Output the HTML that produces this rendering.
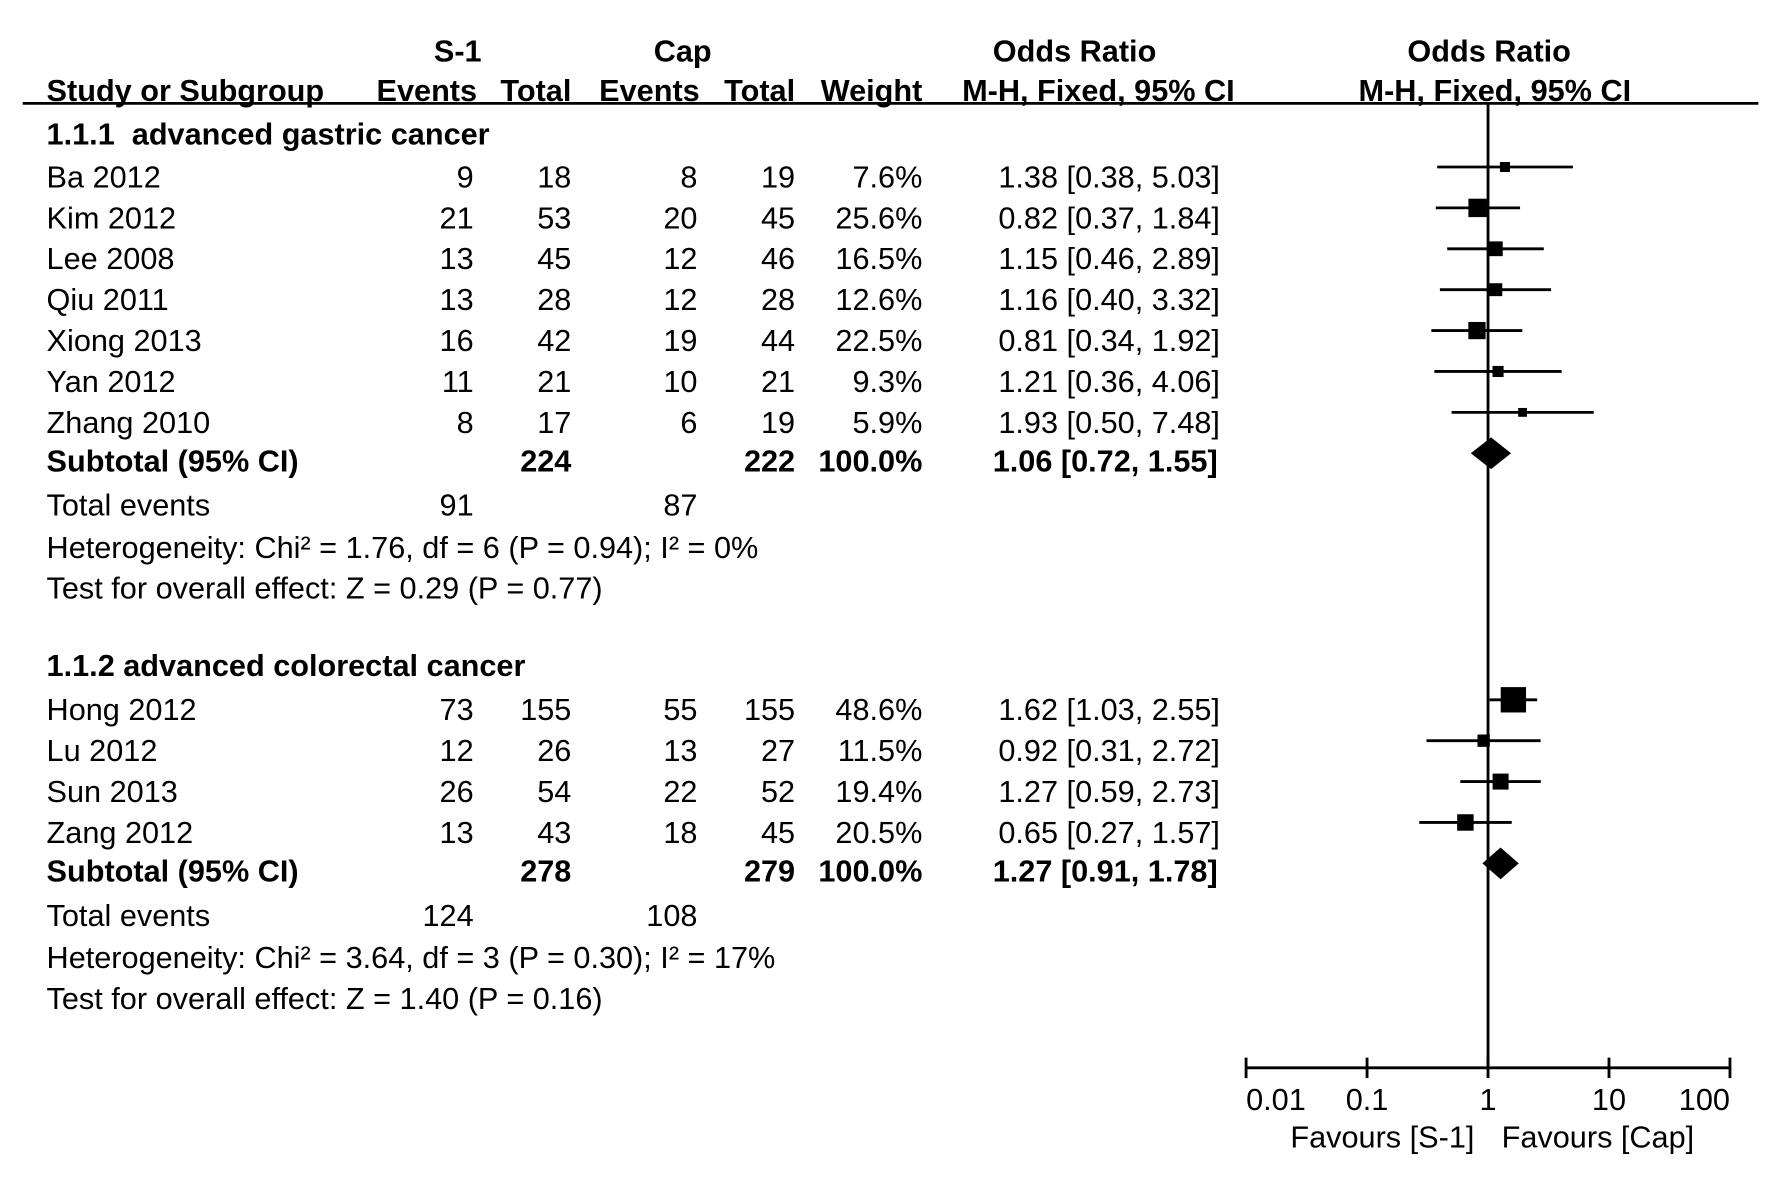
<!DOCTYPE html>
<html><head><meta charset="utf-8"><style>
html,body{margin:0;padding:0;background:#fff;}
svg{display:block;}
text{font-family:"Liberation Sans",Arial,sans-serif;font-size:27px;fill:#000;}
.b{font-weight:bold;}
</style></head><body>
<svg id="chart" width="1772" height="1186" viewBox="0 0 1560 1044" preserveAspectRatio="none" xmlns="http://www.w3.org/2000/svg">
<g id="hdr">
<text class="b" x="403" y="54" text-anchor="middle">S-1</text>
<text class="b" x="601" y="54" text-anchor="middle">Cap</text>
<text class="b" x="946" y="54" text-anchor="middle">Odds Ratio</text>
<text class="b" x="1311" y="54" text-anchor="middle">Odds Ratio</text>
<text class="b" x="41" y="89">Study or Subgroup</text>
<text class="b" x="420" y="89" text-anchor="end">Events</text>
<text class="b" x="503" y="89" text-anchor="end">Total</text>
<text class="b" x="616" y="89" text-anchor="end">Events</text>
<text class="b" x="700" y="89" text-anchor="end">Total</text>
<text class="b" x="812" y="89" text-anchor="end">Weight</text>
<text class="b" x="967" y="89" text-anchor="middle">M-H, Fixed, 95% CI</text>
<text class="b" x="1316" y="89" text-anchor="middle">M-H, Fixed, 95% CI</text>
<line x1="20" y1="91" x2="1548" y2="91" stroke="#000" stroke-width="2.5"/>
</g>
<g id="rows"></g>
<g id="plot"></g>
</svg>
<script>
const studies1 = ["Ba 2012","Kim 2012","Lee 2008","Qiu 2011","Xiong 2013","Yan 2012","Zhang 2010"];
const s1Events1 = [9,21,13,13,16,11,8];
const s1Total1 = [18,53,45,28,42,21,17];
const capEvents1 = [8,20,12,12,19,10,6];
const capTotal1 = [19,45,46,28,44,21,19];
const weights1 = [7.6,25.6,16.5,12.6,22.5,9.3,5.9];
const or1 = [1.38,0.82,1.15,1.16,0.81,1.21,1.93];
const lo1 = [0.38,0.37,0.46,0.40,0.34,0.36,0.50];
const hi1 = [5.03,1.84,2.89,3.32,1.92,4.06,7.48];
const studies2 = ["Hong 2012","Lu 2012","Sun 2013","Zang 2012"];
const s1Events2 = [73,12,26,13];
const s1Total2 = [155,26,54,43];
const capEvents2 = [55,13,22,18];
const capTotal2 = [155,27,52,45];
const weights2 = [48.6,11.5,19.4,20.5];
const or2 = [1.62,0.92,1.27,0.65];
const lo2 = [1.03,0.31,0.59,0.27];
const hi2 = [2.55,2.72,2.73,1.57];
const subtotalOR = [1.06,1.27];
const subtotalLo = [0.72,0.91];
const subtotalHi = [1.55,1.78];
const subtotalS1 = [224,278];
const subtotalCap = [222,279];
const totalEventsS1 = [91,124];
const totalEventsCap = [87,108];
const hetText = ["Heterogeneity: Chi² = 1.76, df = 6 (P = 0.94); I² = 0%","Heterogeneity: Chi² = 3.64, df = 3 (P = 0.30); I² = 17%"];
const testText = ["Test for overall effect: Z = 0.29 (P = 0.77)","Test for overall effect: Z = 1.40 (P = 0.16)"];
const groupTitles = ["1.1.1  advanced gastric cancer","1.1.2 advanced colorectal cancer"];
const tickValues = [0.01,0.1,1,10,100];
const tickLabels = ["0.01","0.1","1","10","100"];

const NS="http://www.w3.org/2000/svg";
const rowsG=document.getElementById('rows'), plotG=document.getElementById('plot');
const X0=1310, DEC=106.5, AXY=940;
function xs(v){return X0+DEC*Math.log10(v);}
function t(parent,str,x,y,anchor,bold){const e=document.createElementNS(NS,'text');e.setAttribute('x',x);e.setAttribute('y',y);if(anchor)e.setAttribute('text-anchor',anchor);if(bold)e.setAttribute('class','b');e.textContent=str;parent.appendChild(e);return e;}
function fmt(v){return v.toFixed(2);}
const groups=[
 {st:studies1,se:s1Events1,stt:s1Total1,ce:capEvents1,ct:capTotal1,w:weights1,or:or1,lo:lo1,hi:hi1,top:117,first:155},
 {st:studies2,se:s1Events2,stt:s1Total2,ce:capEvents2,ct:capTotal2,w:weights2,or:or2,lo:lo2,hi:hi2,top:585,first:624}
];
groups.forEach((g,gi)=>{
 let e=t(rowsG,groupTitles[gi],41,g.top+10,null,true);
 
 
 e.setAttribute('xml:space','preserve');e.style.whiteSpace='pre';
 let y=g.first;
 g.st.forEach((s,i)=>{
  const cy=y+i*36, by=cy+10;
  e=t(rowsG,s,41,by);
  
  
  t(rowsG,String(g.se[i]),417,by,'end');
  t(rowsG,String(g.stt[i]),503,by,'end');
  t(rowsG,String(g.ce[i]),614,by,'end');
  t(rowsG,String(g.ct[i]),700,by,'end');
  t(rowsG,g.w[i].toFixed(1)+'%',812,by,'end');
  t(rowsG,fmt(g.or[i])+' ['+fmt(g.lo[i])+', '+fmt(g.hi[i])+']',1074,by,'end');
  const ly=cy-8;
  const ln=document.createElementNS(NS,'line');
  ln.setAttribute('x1',xs(g.lo[i]));ln.setAttribute('x2',xs(g.hi[i]));
  ln.setAttribute('y1',ly);ln.setAttribute('y2',ly);
  ln.setAttribute('stroke','#000');ln.setAttribute('stroke-width','2.5');
  
  
  plotG.appendChild(ln);
  const sz=Math.max(6,3.2*Math.sqrt(g.w[i]));
  const r=document.createElementNS(NS,'rect');
  r.setAttribute('x',xs(g.or[i])-sz/2);r.setAttribute('y',ly-sz/2);
  r.setAttribute('width',sz);r.setAttribute('height',sz);r.setAttribute('fill','#000');
  
  
  plotG.appendChild(r);
 });
 const last=y+(g.st.length-1)*36;
 const sy=last+34;
 e=t(rowsG,'Subtotal (95% CI)',41,sy+10,null,true);
 
 
 t(rowsG,String(subtotalS1[gi]),503,sy+10,'end',true);
 t(rowsG,String(subtotalCap[gi]),700,sy+10,'end',true);
 t(rowsG,'100.0%',812,sy+10,'end',true);
 t(rowsG,fmt(subtotalOR[gi])+' ['+fmt(subtotalLo[gi])+', '+fmt(subtotalHi[gi])+']',1072,sy+10,'end',true);
 const dy=sy-6;
 const cx=xs(subtotalOR[gi]);
 const lx=Math.min(xs(subtotalLo[gi]),cx-16), rx=Math.max(xs(subtotalHi[gi]),cx+16);
 const d=document.createElementNS(NS,'polygon');
 d.setAttribute('points',[lx+','+dy, cx+','+(dy-14), rx+','+dy, cx+','+(dy+14)].join(' '));
 d.setAttribute('fill','#000');
 
 
 plotG.appendChild(d);
 const ty=sy+39;
 e=t(rowsG,'Total events',41,ty+10);
 
 
 t(rowsG,String(totalEventsS1[gi]),417,ty+10,'end');
 t(rowsG,String(totalEventsCap[gi]),614,ty+10,'end');
 e=t(rowsG,hetText[gi],41,ty+47);
 
 
 e=t(rowsG,testText[gi],41,ty+83);
 
 
});
let vl=document.createElementNS(NS,'line');
vl.setAttribute('x1',xs(1));vl.setAttribute('x2',xs(1));vl.setAttribute('y1',91);vl.setAttribute('y2',AXY);
vl.setAttribute('stroke','#000');vl.setAttribute('stroke-width','2.5');


plotG.appendChild(vl);
let ax=document.createElementNS(NS,'line');
ax.setAttribute('x1',xs(tickValues[0]));ax.setAttribute('x2',xs(tickValues[tickValues.length-1]));ax.setAttribute('y1',AXY);ax.setAttribute('y2',AXY);
ax.setAttribute('stroke','#000');ax.setAttribute('stroke-width','2.5');


plotG.appendChild(ax);
tickValues.forEach((v,i)=>{
 const tk=document.createElementNS(NS,'line');
 tk.setAttribute('x1',xs(v));tk.setAttribute('x2',xs(v));tk.setAttribute('y1',AXY-9);tk.setAttribute('y2',AXY+9);
 tk.setAttribute('stroke','#000');tk.setAttribute('stroke-width','2.5');
 
 
 plotG.appendChild(tk);
 const anc=i===0?'start':(i===tickValues.length-1?'end':'middle');
 const lb=t(plotG,tickLabels[i],xs(v),977,anc);
 
 
});
let f1=t(plotG,'Favours [S-1]',1298,1010,'end');


let f2=t(plotG,'Favours [Cap]',1322,1010,'start');


</script>
</body></html>
